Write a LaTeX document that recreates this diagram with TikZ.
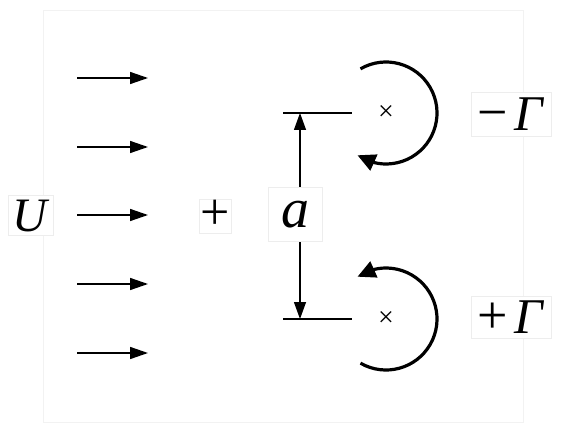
\documentclass[tikz,border=0pt]{standalone}
\usepackage{fontspec}
\setmainfont{Liberation Serif}
\usetikzlibrary{arrows.meta,bending}
\begin{document}
\begin{tikzpicture}[x=1pt,y=-1pt,
  frame/.style={draw=black!5, line width=0.8pt},
  lbl/.style={draw=black!7, fill=white, inner sep=0pt, line width=0.6pt},
  flow/.style={line width=1.5pt, -{Triangle[length=18pt,width=12pt]}},
  dimline/.style={line width=1.3pt, {Triangle[length=17pt,width=12pt]}-{Triangle[length=17pt,width=12pt]}},
  tickline/.style={line width=1.4pt},
  circ/.style={line width=3.2pt, -{Triangle[length=18pt,width=17pt]}},
  cross/.style={inner sep=0pt, font=\fontsize{28}{28}\selectfont},
]
\useasboundingbox (0,0) rectangle (562,433);
\draw[frame] (43,10) rectangle (523,422);
% flow arrows
\foreach \i/\y in {1/78,2/147,3/215,4/284,5/353}{
  \coordinate (s\i) at (77,\y);
  \coordinate (e\i) at (148,\y);
  \draw[flow] (s\i) -- (e\i);
}
% vortices
\node[cross] (vu) at (386,113) {×};
\node[cross] (vl) at (386,319) {×};
\draw[circ] ([shift={(120:51pt)}]vu.center) arc[start angle=120, end angle=-124, radius=51pt];
\draw[circ] ([shift={(-120:51pt)}]vl.center) arc[start angle=-120, end angle=124, radius=51pt];
% ticks and dimension
\coordinate (tl1) at (283,113);
\coordinate (tr1) at (352,113);
\coordinate (tl2) at (283,319);
\coordinate (tr2) at (352,319);
\coordinate (dt) at (300,113);
\coordinate (db) at (300,319);
\draw[tickline] (tl1) -- (tr1);
\draw[tickline] (tl2) -- (tr2);
\draw[dimline] (dt) -- (db);
% labels
\node[lbl, minimum width=45pt, minimum height=40pt, text height=32pt, text depth=0pt,
      font=\fontsize{48}{48}\selectfont] (U) at (31,215) {\textit{U}};
\node[lbl, minimum width=32pt, minimum height=34pt, text height=26pt, text depth=0pt,
      font=\fontsize{52}{52}\selectfont] (plus) at (215,216) {+};
\node[lbl, minimum width=54pt, minimum height=54pt, text height=26pt, text depth=0pt,
      font=\fontsize{56}{56}\selectfont] (a) at (295,214) {\textit{a}};
\node[lbl, minimum width=80pt, minimum height=44pt, text height=33pt, text depth=0pt,
      font=\fontsize{50}{50}\selectfont] (gm) at (511,114) {{\fontsize{54}{54}\selectfont −}\hspace{6pt}\textit{Γ}};
\node[lbl, minimum width=80pt, minimum height=42pt, text height=33pt, text depth=0pt,
      font=\fontsize{50}{50}\selectfont] (gp) at (511,317) {{\fontsize{54}{54}\selectfont +}\hspace{6pt}\textit{Γ}};
\end{tikzpicture}
\end{document}
